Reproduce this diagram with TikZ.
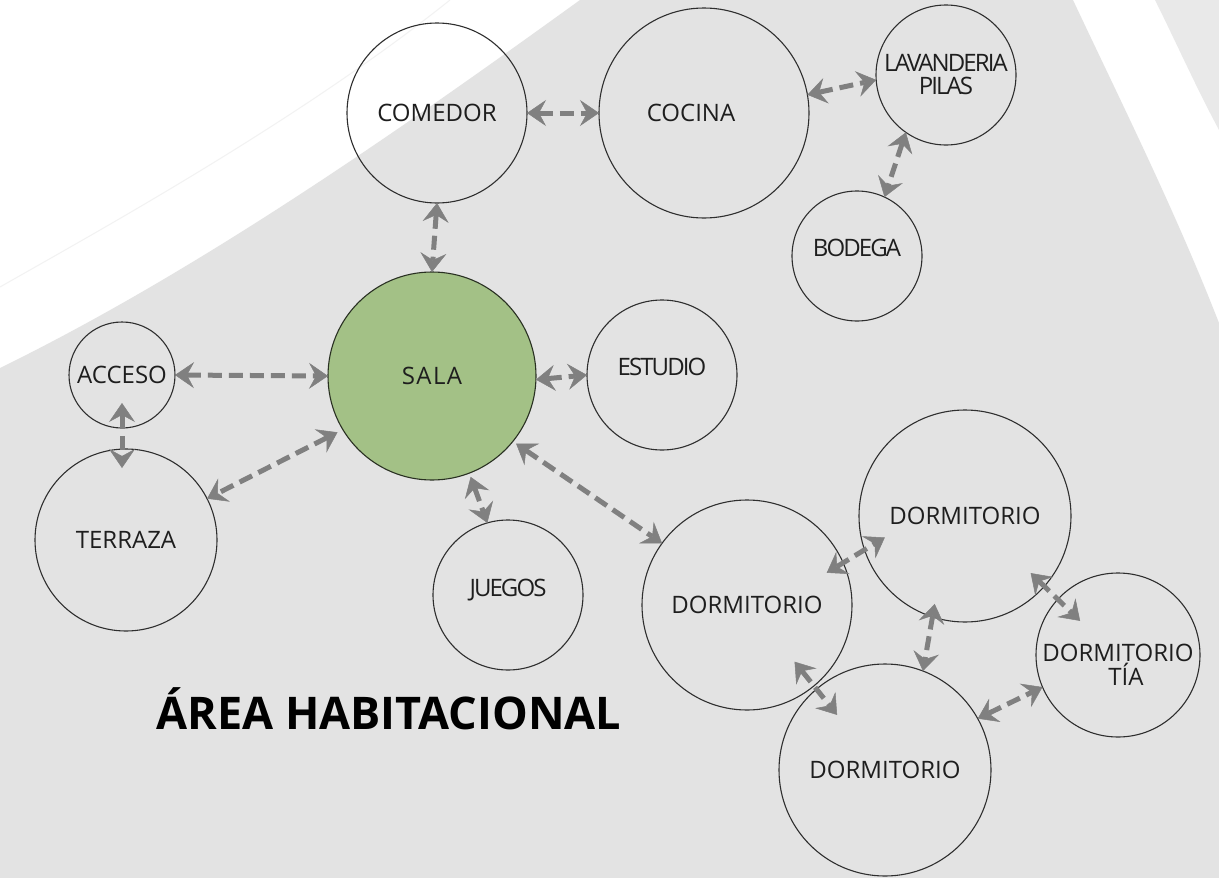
\documentclass[tikz,border=0pt]{standalone}
\usepackage{fontspec}
\setmainfont{Open Sans}
\newfontfamily\tightfont[LetterSpace=-8]{Open Sans}
\newfontfamily\widefont[LetterSpace=6]{Open Sans}
\usetikzlibrary{arrows.meta,calc}
\definecolor{BgGray}{HTML}{E3E3E3}
\definecolor{BgLight}{HTML}{E9E9E9}
\definecolor{SeamLine}{HTML}{F2F2F2}
\definecolor{SalaFill}{HTML}{A3C186}
\definecolor{LinkGray}{HTML}{808080}
\definecolor{RingLine}{HTML}{2E2E2E}
\definecolor{LabelText}{HTML}{1E1E1E}

\begin{document}
\begin{tikzpicture}[x=1pt,y=-1pt,
  room/.style={circle,draw=RingLine,line width=1.1pt,inner sep=0pt,
    outer sep=0pt,minimum size=#1,align=center,text=LabelText,
    font=\fontsize{24}{24}\selectfont},
  core/.style={room=#1,fill=SalaFill,draw=black!75!SalaFill,
    font=\widefont\fontsize{24}{24}\selectfont},
  tight/.style={font=\tightfont\fontsize{24}{23}\selectfont},
  lift/.style={text depth=#1},
  link/.style={<->,>={Stealth[length=19pt,width=26pt,inset=7pt,line width=0.5pt]},
    draw=LinkGray,line width=5pt,dash pattern=on 14pt off 7pt},
  title/.style={font=\bfseries\fontsize{45}{45}\selectfont,text=black}
]
\useasboundingbox (0,0) rectangle (1219,878);
% background bands
\fill[white] (0,0) rectangle (1219,878);
\fill[BgGray] (0,368) .. controls (200,270) and (400,130) .. (580,0)
  -- (1073,0) .. controls (1120,100) and (1175,210) .. (1219,323)
  -- (1219,878) -- (0,878) -- cycle;
\fill[BgLight] (1155,0) -- (1219,0) -- (1219,130)
  .. controls (1195,85) and (1175,40) .. (1155,0);
\draw[SeamLine,line width=1pt] (0,287) .. controls (100,230) and (300,120) .. (450,0);

% rooms
\node[room=180pt] (comedor) at (437,113) {COMEDOR};
\node[room=210pt] (cocina) at (704,113) {COCINA\hspace*{26pt}};
\node[room=140pt,tight] (lavanderia) at (946,75) {LAVANDERIA\\PILAS};
\node[room=130pt,tight,lift=16pt] (bodega) at (857,256) {BODEGA};
\node[core=208pt] (sala) at (432,376) {SALA};
\node[room=150pt,tight,lift=16pt] (estudio) at (662,375) {ESTUDIO};
\node[room=106pt] (acceso) at (122,375) {ACCESO};
\node[room=182pt] (terraza) at (126,540) {TERRAZA};
\node[room=150pt,tight,lift=14pt] (juegos) at (508,595) {JUEGOS};
\node[room=210pt] (dormA) at (747,605) {DORMITORIO};
\node[room=212pt] (dormB) at (965,516) {DORMITORIO};
\node[room=212pt] (dormC) at (885,770) {DORMITORIO};
\node[room=164pt] (dormTia) at (1118,655) {\rule{0pt}{37pt}DORMITORIO\\\hspace*{16pt}TÍA};

\node[title,anchor=base west] (titulo) at (153,729) {ÁREA HABITACIONAL};

% links
\draw[link] (comedor.east) -- (cocina.west);
\draw[link] (comedor.south) -- (sala.north);
\draw[link] (cocina.10) -- (lavanderia.184);
\draw[link] (lavanderia.-125) -- (bodega.65);
\draw[link] (acceso.east) -- (sala.west);
\draw[link,shorten <=-25pt,shorten >=-19pt] (acceso.south) -- (acceso.south |- terraza.north);
\draw[link,shorten <=6pt] (sala.211) -- (terraza.27);
\draw[link] (sala.-2) -- (estudio.west);
\draw[link,shorten <=4pt] (sala.-69) -- (juegos.106);
\draw[link,shorten <=4pt] (sala.-39) -- (dormA.144);
\draw[link] ([shift={(22:86pt)}]dormA.center) -- ([shift={(195:83pt)}]dormB.center);
\draw[link] ([shift={(-50:74pt)}]dormA.center) -- ([shift={(131:73pt)}]dormC.center);
\draw[link] ([shift={(-109:93pt)}]dormB.center) -- (dormC.69);
\draw[link] ([shift={(-41:87pt)}]dormB.center) -- ([shift={(138:51pt)}]dormTia.center);
\draw[link] (dormC.29) -- (dormTia.203);
\end{tikzpicture}
\end{document}
